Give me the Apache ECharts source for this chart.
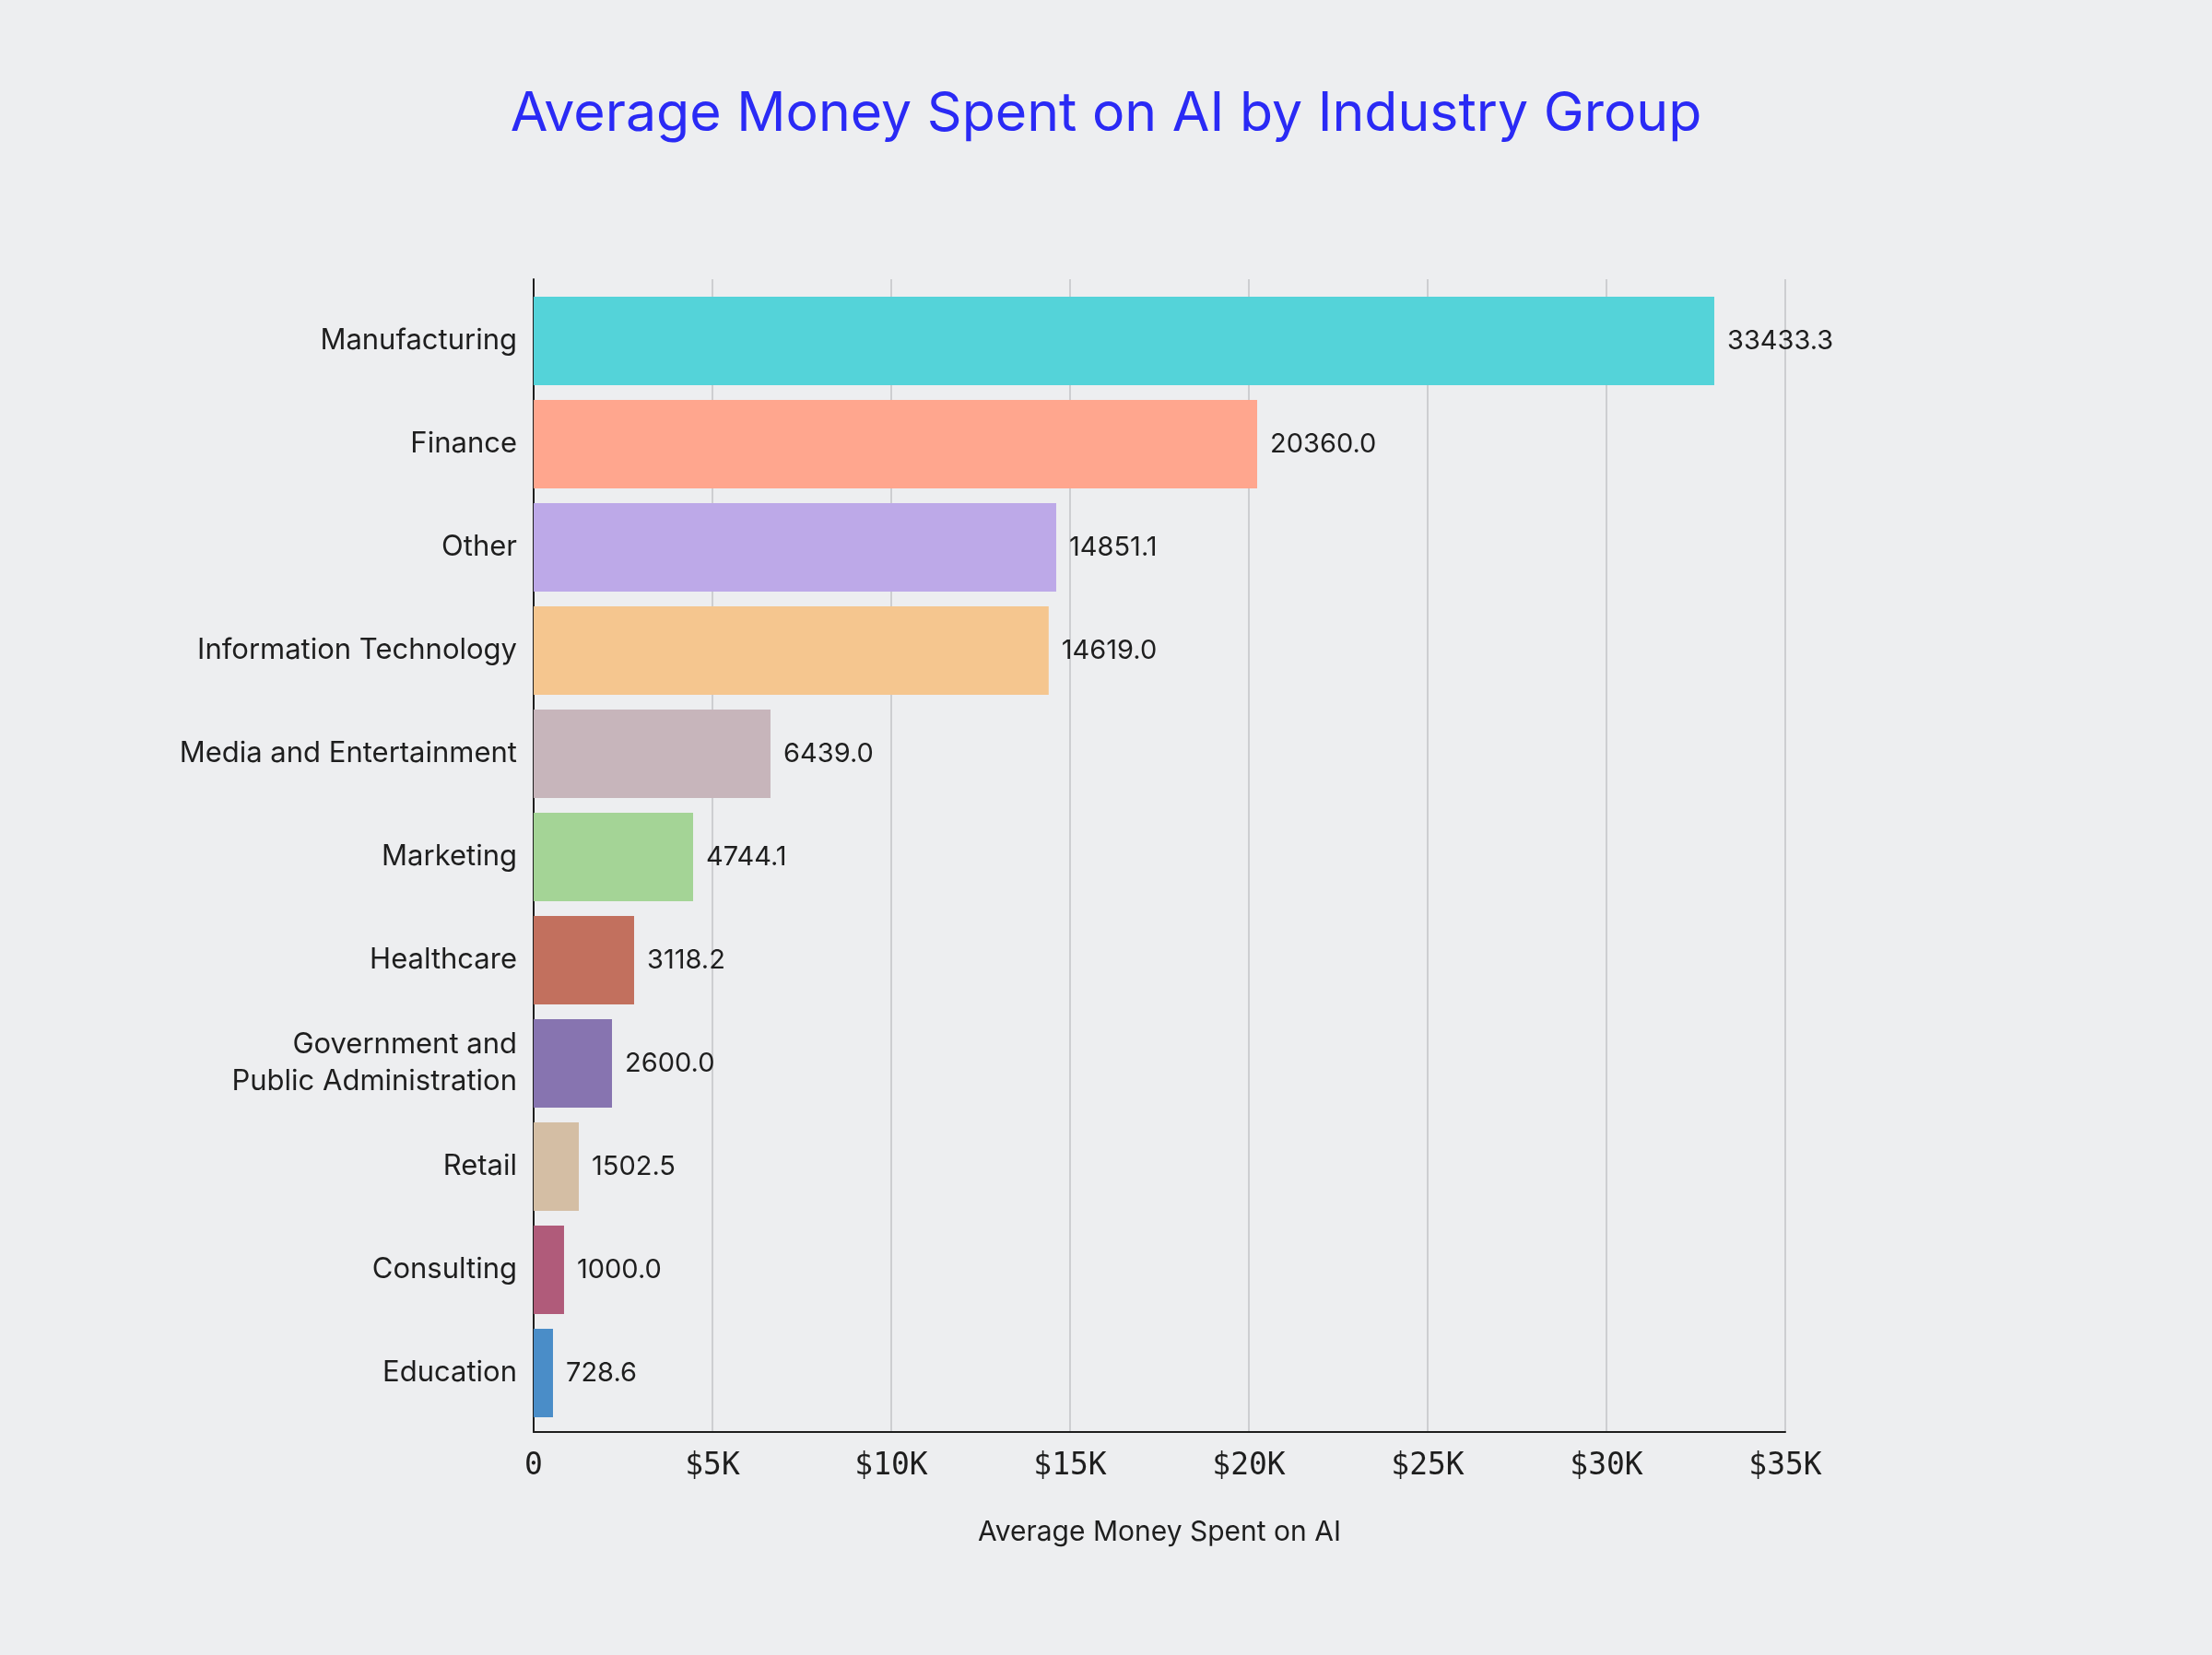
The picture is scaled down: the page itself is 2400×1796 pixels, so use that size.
<!DOCTYPE html>
<html>
<head>
<meta charset="utf-8">
<script src="https://cdn.jsdelivr.net/npm/echarts@6/dist/echarts.min.js"></script>
<style>
html,body{margin:0;padding:0;background:#edeef0;}
#chart{width:2400px;height:1796px;}
</style>
</head>
<body>
<div id="chart"></div>
<script>
const categories = ["Manufacturing","Finance","Other","Information Technology","Media and Entertainment","Marketing","Healthcare","Government and\nPublic Administration","Retail","Consulting","Education"];
const barValues = [33015, 20232, 14613, 14402, 6624, 4459, 2809, 2191, 1263, 850, 541];
const valueLabels = ["33433.3","20360.0","14851.1","14619.0","6439.0","4744.1","3118.2","2600.0","1502.5","1000.0","728.6"];
const barColors = ["#54d3d9","#ffa68e","#bda9e8","#f5c68f","#c7b5bb","#a4d496","#c2705e","#8774b0","#d4bea4","#b05b7a","#4a8dc8"];
const tickLabels = ["0","$5K","$10K","$15K","$20K","$25K","$30K","$35K"];

const chart = echarts.init(document.getElementById('chart'));
const textFont = 'Inter, "Noto Sans", sans-serif';
chart.setOption({
  backgroundColor: '#edeef0',
  animation: false,
  title: {
    text: 'Average Money Spent on AI by Industry Group',
    left: 'center',
    top: 90,
    textStyle: {color: '#2a2af5', fontSize: 59, fontWeight: 'normal', fontFamily: textFont}
  },
  grid: [
    {left: 579, right: 463, top: 303, bottom: 242},
    {left: 579, right: 463, top: 314, height: 1232}
  ],
  xAxis: [
    {
      gridIndex: 0, type: 'value', min: 0, max: 35000, interval: 5000,
      axisLine: {show: true, lineStyle: {color: '#1e1e1e', width: 2}},
      axisTick: {show: false},
      splitLine: {show: true, lineStyle: {color: '#cdced1', width: 2}},
      axisLabel: {
        margin: 21, color: '#1e1e1e', fontSize: 33, fontFamily: '"DejaVu Sans Mono", monospace',
        formatter: v => tickLabels[Math.round(v / 5000)]
      },
      name: 'Average Money Spent on AI', nameLocation: 'middle', nameGap: 94,
      nameTextStyle: {color: '#1e1e1e', fontSize: 30, fontFamily: textFont}
    },
    {
      gridIndex: 1, type: 'value', min: 0, max: 35000, show: false
    }
  ],
  yAxis: [
    {
      gridIndex: 0, type: 'value', min: 0, max: 1,
      axisLine: {show: true, lineStyle: {color: '#1e1e1e', width: 2}},
      axisTick: {show: false}, axisLabel: {show: false}, splitLine: {show: false}
    },
    {
      gridIndex: 1, type: 'category', data: categories, inverse: true,
      axisLine: {show: false}, axisTick: {show: false},
      axisLabel: {margin: 18, color: '#1e1e1e', fontSize: 31, lineHeight: 40, fontFamily: textFont, align: 'right', padding: [4, 0, 0, 0]}
    }
  ],
  series: [{
    type: 'bar',
    xAxisIndex: 1, yAxisIndex: 1,
    barCategoryGap: '14.5%',
    data: barValues.map((v, i) => ({value: v, itemStyle: {color: barColors[i]}})),
    label: {
      show: true, position: 'right', distance: 14,
      color: '#1e1e1e', fontSize: 29, fontFamily: textFont, padding: [5, 0, 0, 0],
      formatter: p => valueLabels[p.dataIndex]
    }
  }]
});
</script>
</body>
</html>
